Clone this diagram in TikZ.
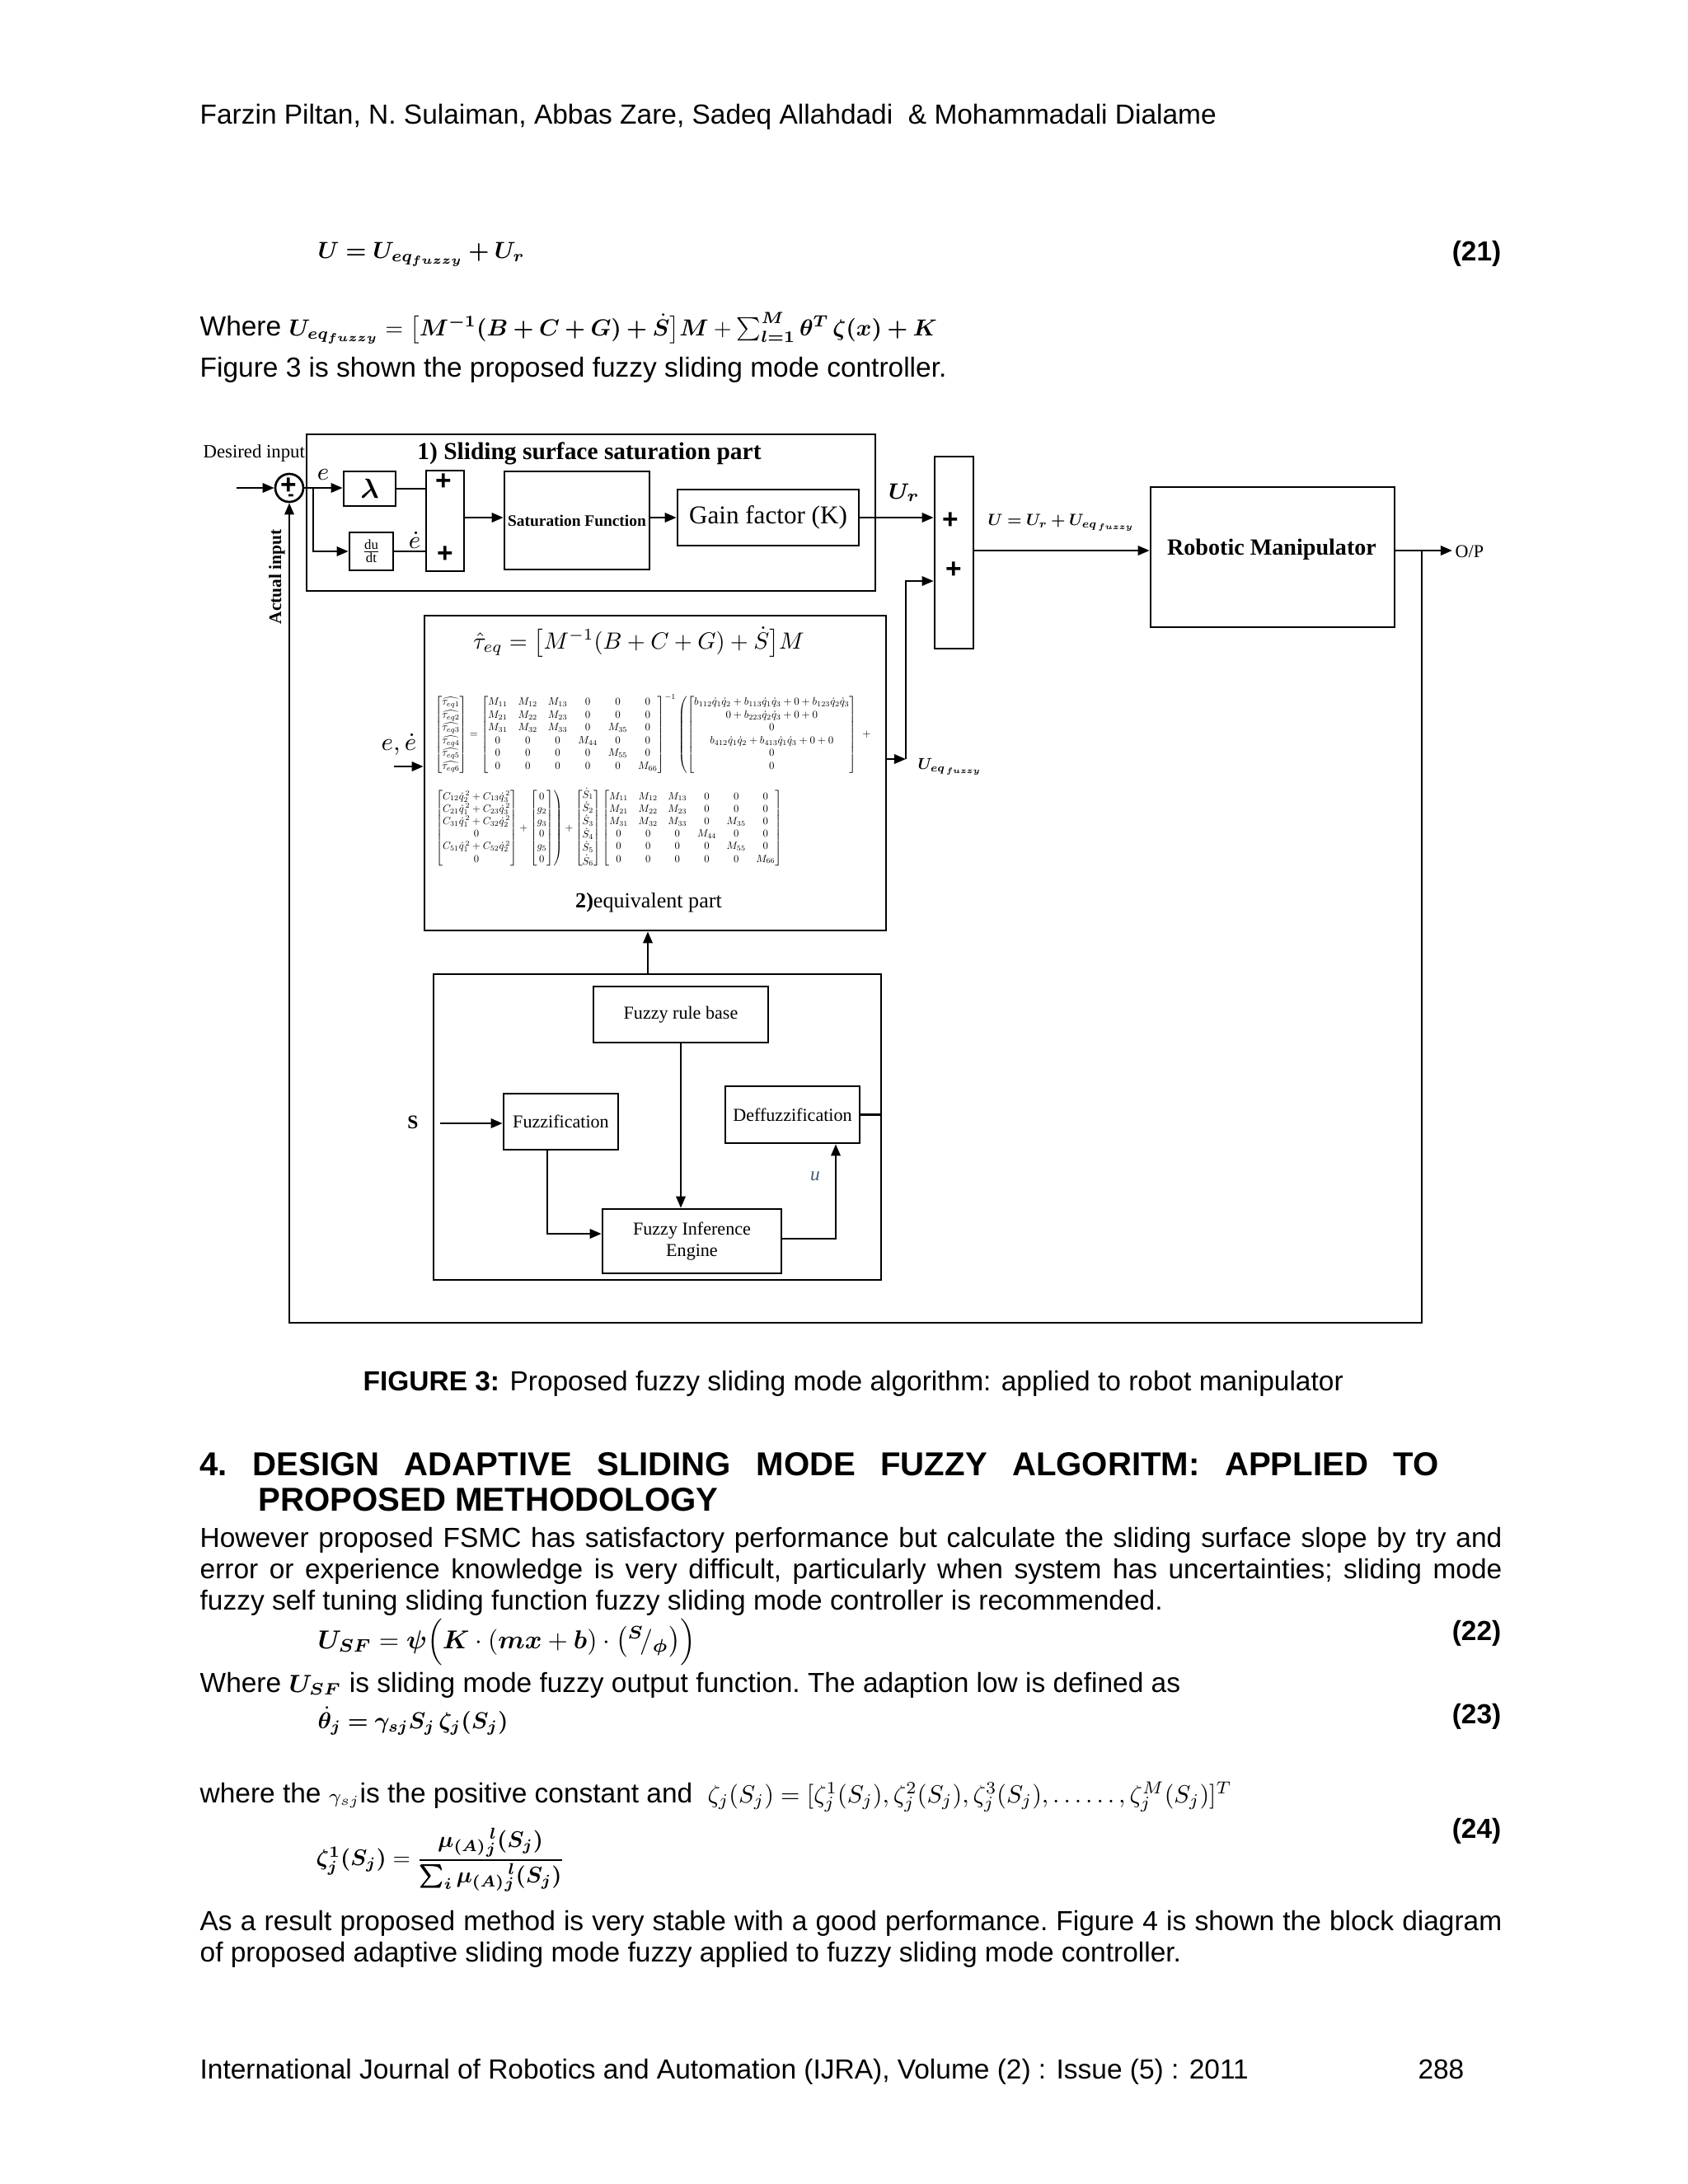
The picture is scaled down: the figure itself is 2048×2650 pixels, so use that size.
\documentclass[tikz,border=0pt]{standalone}
\usepackage{amsmath}
\usepackage{bm}
\usepackage{fontspec}
\setmainfont{Liberation Sans}
\newfontfamily\tms{Liberation Serif}
\usetikzlibrary{fit,arrows.meta,calc}
\definecolor{ublue}{RGB}{70,90,115}
\tikzset{
  blk/.style={draw, line width=0.8pt, inner sep=0pt},
  conn/.style={line width=0.7pt},
  arr/.style={conn, -{Triangle[length=4.2pt,width=3.4pt]}},
  body/.style={inner sep=0pt, font=\fontsize{10}{11.5}\selectfont},
  bodyb/.style={inner sep=0pt, font=\fontsize{10}{11.5}\selectfont\bfseries},
  dg/.style={inner sep=0pt, font=\tms\fontsize{6.6}{7.8}\selectfont},
}
\begin{document}
\begin{tikzpicture}[x=0.29883pt, y=-0.29883pt]
\fill[white] (0,0) rectangle (2048,2650);
\useasboundingbox (0,0) rectangle (2048,2650);

% ---------------- header and body text above figure
\node[body, anchor=base west] (hdr) at (242,150) {Farzin Piltan, N. Sulaiman, Abbas Zare, Sadeq Allahdadi\ \ \& Mohammadali Dialame};
\node[body, anchor=base west] (eq21) at (385,313) {\resizebox{75pt}{!}{$\bm{U = U_{eq_{fuzzy}} + U_{r}}$}};
\node[bodyb, anchor=base east] (n21) at (1822,316) {(21)};
\node[body, anchor=base west] (where1) at (242,407) {Where \resizebox{235pt}{!}{$\bm{U_{eq_{fuzzy}}} = \bigl[\bm{M^{-1}(B+C+G)+\dot S}\bigr]\bm{M}+\textstyle\sum_{\bm{l=1}}^{\bm{M}}\bm{\theta^{T}\,\zeta(x)+K}$}};
\node[body, anchor=base west] (fig3txt) at (242,457) {Figure 3 is shown the proposed fuzzy sliding mode controller.};

% ---------------- diagram: part 1
\node[blk, fit={(372,527) (1062,717)}] (box1) {};
\node[inner sep=0pt, font=\tms\bfseries\fontsize{8.8}{10}\selectfont] (t1) at (715,550) {1) Sliding surface saturation part};
\node[dg, font=\tms\fontsize{6.8}{8}\selectfont, anchor=west] (desin) at (246,550) {Desired input};
\node[draw, circle, line width=0.8pt, minimum size=34*0.29883pt, inner sep=0pt] (sumc) at (351,592) {};
\node[inner sep=0pt, font=\bfseries\fontsize{10}{10}\selectfont] (cplus) at (350,590) {+};
\node[inner sep=0pt, font=\bfseries\fontsize{7}{7}\selectfont] (cminus) at (353,604) {-};
\node[blk, fit={(417,572) (480,614)}] (lam) {};
\node[inner sep=0pt, font=\fontsize{10}{10}\selectfont] (laml) at (lam.center) {$\bm{\lambda}$};
\node[blk, fit={(424,646) (477,692)}] (ddt) {};
\node[inner sep=0pt, font=\tms\fontsize{6}{6}\selectfont] (ddtl) at (ddt.center) {$\frac{\text{du}}{\text{dt}}$};
\node[blk, fit={(517,571) (563,693)}] (plus1) {};
\node[inner sep=0pt, font=\bfseries\fontsize{10}{10}\selectfont] (p1a) at (538,585) {+};
\node[inner sep=0pt, font=\bfseries\fontsize{10}{10}\selectfont] (p1b) at (540,673) {+};
\node[blk, fit={(612,572) (788,691)}] (sat) {};
\node[inner sep=0pt, font=\tms\bfseries\fontsize{5.8}{7}\selectfont] (satl) at (sat.center) {Saturation Function};
\node[blk, fit={(822,594) (1042,662)}] (gain) {};
\node[inner sep=0pt, font=\tms\fontsize{9.3}{10}\selectfont] (gainl) at (gain.center) {Gain factor (K)};
\node[inner sep=0pt, font=\fontsize{9}{9}\selectfont] (el) at (392,576) {$e$};
\node[inner sep=0pt, font=\fontsize{9}{9}\selectfont] (edl) at (503,655) {$\dot e$};

\coordinate (in0) at (287,592);
\coordinate (br) at (380,592);
\coordinate (lvl1) at (600,628);
\draw[arr] (in0) -- (sumc.west);
\draw[arr] (sumc.east) -- (sumc.east -| lam.west);
\draw[arr] (br) |- (ddt.west);
\draw[conn] (lam.east) -- (lam.east -| plus1.west);
\draw[conn] (ddt.east) -- (ddt.east -| plus1.west);
\draw[arr] (plus1.east |- lvl1) -- (sat.west |- lvl1);
\draw[arr] (sat.east |- lvl1) -- (gain.west |- lvl1);

% ---------------- summation, robot
\node[blk, fit={(1134,554) (1181,787)}] (sumb) {};
\node[inner sep=0pt, font=\bfseries\fontsize{10}{10}\selectfont] (s1) at (1153,632) {+};
\node[inner sep=0pt, font=\bfseries\fontsize{10}{10}\selectfont] (s2) at (1157,692) {+};
\node[blk, fit={(1396,591) (1692,761)}] (robot) {};
\node[inner sep=0pt, font=\tms\bfseries\fontsize{8.4}{10}\selectfont] (robotl) at (1543,667) {Robotic Manipulator};
\node[inner sep=0pt, font=\fontsize{8}{8}\selectfont] (url) at (1097,598) {$\bm{U_r}$};
\node[inner sep=0pt, anchor=west] (ul) at (1198,634) {\resizebox{53pt}{!}{$\bm{U = U_r + U_{eq_{\,fuzzy}}}$}};
\coordinate (lvl2) at (1300,668);
\coordinate (op) at (1762,668);
\coordinate (fb1) at (1725,668);
\coordinate (fb2) at (1725,1605);
\coordinate (fb3) at (351,1605);
\draw[arr] (gain.east |- lvl1) -- (sumb.west |- lvl1);
\draw[arr] (sumb.east |- lvl2) -- (robot.west |- lvl2);
\draw[arr] (robot.east |- lvl2) -- (op);
\node[inner sep=0pt, font=\tms\fontsize{6.6}{8}\selectfont, anchor=west] (opl) at (1765,669) {O/P};
\draw[arr] (fb1) -- (fb2) -- (fb3) -- (sumc.south);
\node[inner sep=0pt, font=\tms\bfseries\fontsize{6.4}{8}\selectfont, rotate=90] (actin) at (336,700) {Actual input};

% ---------------- equivalent part
\node[blk, fit={(515,747) (1075,1129)}] (eqbox) {};
\node[inner sep=0pt] (teq) at (775,779) {\resizebox{120pt}{!}{$\hat\tau_{eq} = \bigl[M^{-1}(B+C+G)+\dot S\bigr]M$}};
\node[inner sep=0pt] (mrow1) at (792,890) {\resizebox{158pt}{!}{$\begin{bmatrix}\widehat{\tau_{eq1}}\\ \widehat{\tau_{eq2}}\\ \widehat{\tau_{eq3}}\\ \widehat{\tau_{eq4}}\\ \widehat{\tau_{eq5}}\\ \widehat{\tau_{eq6}}\end{bmatrix}=\begin{bmatrix} M_{11}&M_{12}&M_{13}&0&0&0\\ M_{21}&M_{22}&M_{23}&0&0&0\\ M_{31}&M_{32}&M_{33}&0&M_{35}&0\\ 0&0&0&M_{44}&0&0\\ 0&0&0&0&M_{55}&0\\ 0&0&0&0&0&M_{66}\end{bmatrix}^{-1}\left(\begin{bmatrix} b_{112}\dot q_1\dot q_2+b_{113}\dot q_1\dot q_3+0+b_{123}\dot q_2\dot q_3\\ 0+b_{223}\dot q_2\dot q_3+0+0\\ 0\\ b_{412}\dot q_1\dot q_2+b_{413}\dot q_1\dot q_3+0+0\\ 0\\ 0\end{bmatrix}\right.\;+$}};
\node[inner sep=0pt] (mrow2) at (738,1005) {\resizebox{126pt}{!}{$\left.\begin{bmatrix} C_{12}\dot q_2^{\,2}+C_{13}\dot q_3^{\,2}\\ C_{21}\dot q_1^{\,2}+C_{23}\dot q_3^{\,2}\\ C_{31}\dot q_1^{\,2}+C_{32}\dot q_2^{\,2}\\ 0\\ C_{51}\dot q_1^{\,2}+C_{52}\dot q_2^{\,2}\\ 0\end{bmatrix}+\begin{bmatrix}0\\ g_2\\ g_3\\ 0\\ g_5\\ 0\end{bmatrix}\right)+\begin{bmatrix}\dot S_1\\ \dot S_2\\ \dot S_3\\ \dot S_4\\ \dot S_5\\ \dot S_6\end{bmatrix}\begin{bmatrix} M_{11}&M_{12}&M_{13}&0&0&0\\ M_{21}&M_{22}&M_{23}&0&0&0\\ M_{31}&M_{32}&M_{33}&0&M_{35}&0\\ 0&0&0&M_{44}&0&0\\ 0&0&0&0&M_{55}&0\\ 0&0&0&0&0&M_{66}\end{bmatrix}$}};
\node[inner sep=0pt, font=\tms\fontsize{7.8}{9}\selectfont] (eqpart) at (787,1095) {\textbf{2)}equivalent part};
\node[inner sep=0pt, font=\fontsize{9}{9}\selectfont] (eel) at (484,903) {$e,\dot e$};
\coordinate (eqin) at (478,930);
\coordinate (uo) at (1099,921);
\coordinate (uc) at (1099,705);
\draw[arr] (eqin) -- (eqin -| eqbox.west);
\draw[arr] (eqbox.east |- uo) -- (uo);
\draw[arr] (uo) -- (uc) -- (sumb.west |- uc);
\node[inner sep=0pt, anchor=west] (ueql) at (1113,930) {\resizebox{23pt}{!}{$\bm{U_{eq_{\,fuzzy}}}$}};

% ---------------- fuzzy part
\node[blk, fit={(526,1182) (1069,1553)}] (fzbox) {};
\node[blk, fit={(720,1197) (932,1265)}] (rule) {};
\node[dg] (rulel) at (rule.center) {Fuzzy rule base};
\node[blk, fit={(611,1327) (750,1395)}] (fuzzif) {};
\node[dg] (fuzzifl) at (fuzzif.center) {Fuzzification};
\node[blk, fit={(880,1318) (1043,1387)}] (defuzz) {};
\node[dg] (defuzzl) at (defuzz.center) {Deffuzzification};
\node[blk, fit={(731,1467) (948,1545)}] (infer) {};
\node[dg, align=center, font=\tms\fontsize{6.6}{8}\selectfont] (inferl) at (infer.center) {Fuzzy Inference\\Engine};
\node[inner sep=0pt, font=\tms\bfseries\fontsize{7}{8}\selectfont] (sl) at (501,1362) {S};
\node[inner sep=0pt, font=\tms\itshape\fontsize{7}{8}\selectfont, text=ublue] (ul2) at (989,1427) {u};
\coordinate (up1) at (786,1182);
\coordinate (sin) at (534,1363);
\coordinate (fz1) at (664,1450);
\coordinate (fz2) at (700,1497);
\coordinate (fz3) at (1014,1503);
\draw[arr] (up1) -- (eqbox.south -| up1);
\draw[arr] (sin) -- (sin -| fuzzif.west);
\draw[arr] (rule.south) -- (rule.south |- infer.north);
\draw[arr] (fuzzif.south -| fz1) |- (infer.west |- fz2);
\draw[arr] (infer.east |- fz3) -| (defuzz.south -| fz3);
\draw[conn] (defuzz.east) -- (defuzz.east -| fzbox.east);

% ---------------- caption and following text
\node[body, anchor=base west] (cap) at (440,1687) {\textbf{FIGURE 3:} Proposed fuzzy sliding mode algorithm: applied to robot manipulator};
\node[inner sep=0pt, font=\fontsize{12}{14}\selectfont\bfseries, anchor=base west] (h1) at (242,1790) {\frenchspacing\makebox[449.1pt][s]{4. DESIGN ADAPTIVE SLIDING MODE FUZZY ALGORITM: APPLIED TO}};
\node[inner sep=0pt, font=\fontsize{12}{14}\selectfont\bfseries, anchor=base west] (h2) at (313,1833) {PROPOSED METHODOLOGY};
\node[body, anchor=base west] (pa) at (242,1877) {\frenchspacing\makebox[472.1pt][s]{However proposed FSMC has satisfactory performance but calculate the sliding surface slope by try and}};
\node[body, anchor=base west] (pb) at (242,1915) {\frenchspacing\makebox[472.1pt][s]{error or experience knowledge is very difficult, particularly when system has uncertainties; sliding mode}};
\node[body, anchor=base west] (pc) at (242,1953) {fuzzy self tuning sliding function fuzzy sliding mode controller is recommended.};
\node[body, anchor=base west] (eq22) at (385,2000) {\resizebox{137pt}{!}{$\bm{U_{SF}} = \bm{\psi}\Bigl(\bm{K}\cdot(\bm{mx}+\bm{b})\cdot\bigl({}^{\bm{S}}\!/_{\bm{\phi}}\bigr)\Bigr)$}};
\node[bodyb, anchor=base east] (n22) at (1822,1990) {(22)};
\node[body, anchor=base west] (where2) at (242,2053) {\frenchspacing Where {\fontsize{9}{11}\selectfont$\bm{U_{SF}}$} is sliding mode fuzzy output function. The adaption low is defined as};
\node[body, anchor=base west] (eq23) at (385,2097) {\resizebox{69pt}{!}{$\bm{\dot\theta_j = \gamma_{sj} S_j\, \zeta_j(S_j)}$}};
\node[bodyb, anchor=base east] (n23) at (1822,2091) {(23)};
\node[body, anchor=base west] (where3) at (242,2187) {where the $\scriptstyle\gamma_{sj}$is the positive constant and};
\node[body, anchor=base west] (zeta) at (858,2187) {\resizebox{190pt}{!}{$\zeta_j(S_j)=[\zeta_j^1(S_j),\zeta_j^2(S_j),\zeta_j^3(S_j),\ldots\ldots,\zeta_j^M(S_j)]^{T}$}};
\node[body, anchor=west] (eq24) at (383,2257) {\resizebox{90pt}{!}{$\bm{\zeta_j^1(S_j)} = \dfrac{\bm{\mu_{(A)}{}_j^{\,l}(S_j)}}{\bm{\textstyle\sum_i \mu_{(A)}{}_j^{\,l}(S_j)}}$}};
\node[bodyb, anchor=base east] (n24) at (1822,2230) {(24)};
\node[body, anchor=base west] (pd) at (242,2342) {\frenchspacing\makebox[472.1pt][s]{As a result proposed method is very stable with a good performance. Figure 4 is shown the block diagram}};
\node[body, anchor=base west] (pe) at (242,2380) {of proposed adaptive sliding mode fuzzy applied to fuzzy sliding mode controller.};

% ---------------- footer
\node[body, anchor=base west] (foot) at (242,2522) {International Journal of Robotics and Automation (IJRA), Volume (2) : Issue (5) : 2011};
\node[body, anchor=base east] (page) at (1777,2522) {288};
\end{tikzpicture}
\end{document}
